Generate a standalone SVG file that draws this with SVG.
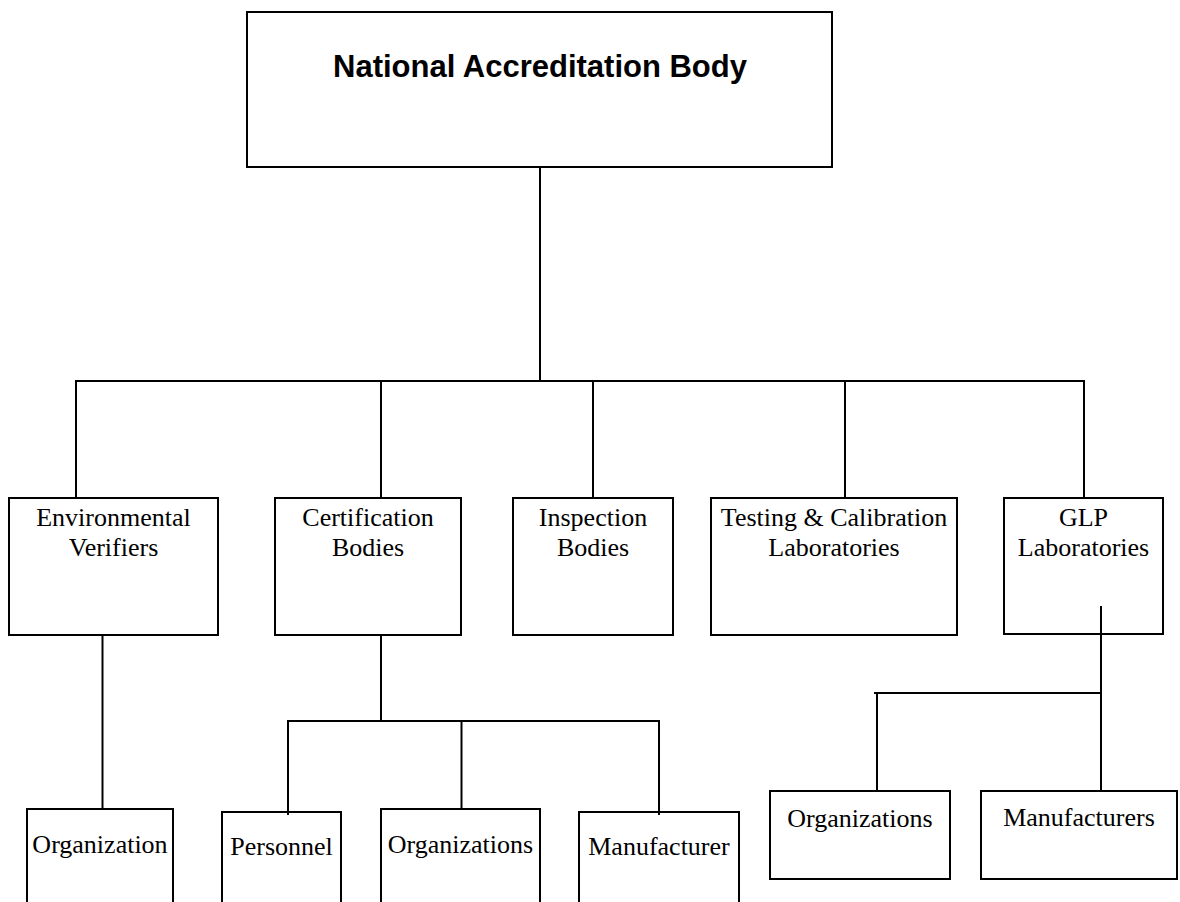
<svg xmlns="http://www.w3.org/2000/svg" width="1180" height="902" viewBox="0 0 1180 902">
<style>
.box{fill:#fff;stroke:#000;stroke-width:2}
.lbl{font-family:"Liberation Serif","Times New Roman",serif;font-size:26px;fill:#000;text-anchor:middle}
.title{font-family:"Liberation Sans",Arial,sans-serif;font-size:31px;font-weight:bold;fill:#000;text-anchor:middle}
.conn line{stroke:#000;stroke-width:2}
</style>
<rect width="1180" height="902" fill="#fff"/>
<g id="national">
<rect class="box" x="247" y="12" width="585" height="155"/>
<text class="title" x="540" y="77">National Accreditation Body</text>
</g>
<g id="env">
<rect class="box" x="9" y="498" width="209" height="137"/>
<text class="lbl" x="113.5" y="526">Environmental</text>
<text class="lbl" x="113.5" y="556">Verifiers</text>
</g>
<g id="cert">
<rect class="box" x="275" y="498" width="186" height="137"/>
<text class="lbl" x="368" y="526">Certification</text>
<text class="lbl" x="368" y="556">Bodies</text>
</g>
<g id="insp">
<rect class="box" x="513" y="498" width="160" height="137"/>
<text class="lbl" x="593" y="526">Inspection</text>
<text class="lbl" x="593" y="556">Bodies</text>
</g>
<g id="testing">
<rect class="box" x="711" y="498" width="246" height="137"/>
<text class="lbl" x="834" y="526">Testing &amp; Calibration</text>
<text class="lbl" x="834" y="556">Laboratories</text>
</g>
<g id="glp">
<rect class="box" x="1004" y="498" width="159" height="136"/>
<text class="lbl" x="1083.5" y="526">GLP</text>
<text class="lbl" x="1083.5" y="556">Laboratories</text>
</g>
<g id="env-org">
<rect class="box" x="27" y="809" width="146" height="100"/>
<text class="lbl" x="100" y="853">Organization</text>
</g>
<g id="cert-personnel">
<rect class="box" x="222" y="812" width="119" height="100"/>
<text class="lbl" x="281.5" y="855">Personnel</text>
</g>
<g id="cert-orgs">
<rect class="box" x="381" y="809" width="159" height="100"/>
<text class="lbl" x="460.5" y="853">Organizations</text>
</g>
<g id="cert-manuf">
<rect class="box" x="579" y="812" width="160" height="100"/>
<text class="lbl" x="659" y="855">Manufacturer</text>
</g>
<g id="glp-orgs">
<rect class="box" x="770" y="791" width="180" height="88"/>
<text class="lbl" x="860" y="827">Organizations</text>
</g>
<g id="glp-manuf">
<rect class="box" x="981" y="791" width="196" height="88"/>
<text class="lbl" x="1079" y="826">Manufacturers</text>
</g>
<g id="connectors" class="conn">
<line x1="540" y1="167" x2="540" y2="381"/>
<line x1="75" y1="381" x2="1085" y2="381"/>
<line x1="76" y1="381" x2="76" y2="498"/>
<line x1="381" y1="381" x2="381" y2="498"/>
<line x1="593" y1="381" x2="593" y2="498"/>
<line x1="845" y1="381" x2="845" y2="498"/>
<line x1="1084" y1="381" x2="1084" y2="498"/>
<line x1="102.5" y1="635" x2="102.5" y2="809"/>
<line x1="381" y1="635" x2="381" y2="721"/>
<line x1="287" y1="721" x2="660" y2="721"/>
<line x1="288" y1="721" x2="288" y2="815"/>
<line x1="461.5" y1="721" x2="461.5" y2="809"/>
<line x1="659" y1="721" x2="659" y2="815"/>
<line x1="1101" y1="606" x2="1101" y2="791"/>
<line x1="874" y1="693" x2="1101" y2="693"/>
<line x1="877" y1="693" x2="877" y2="791"/>
</g>
</svg>
